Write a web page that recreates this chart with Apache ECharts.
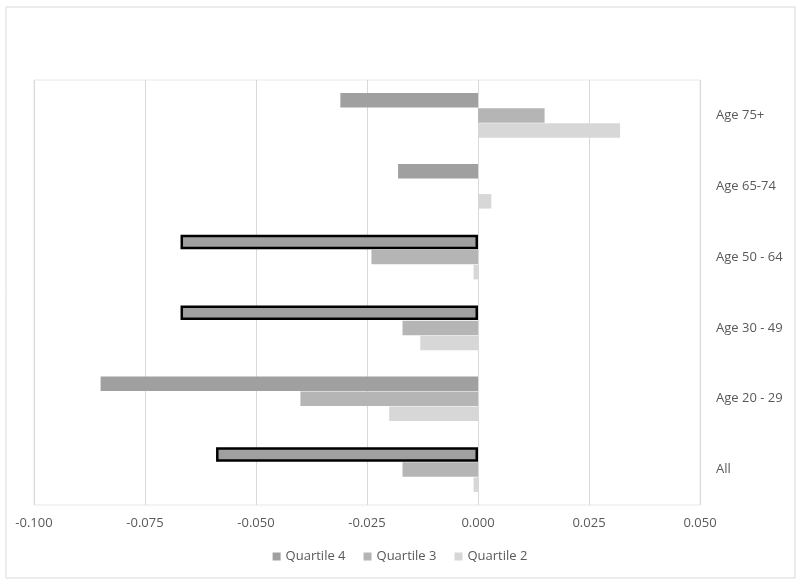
<!DOCTYPE html>
<html>
<head>
<meta charset="utf-8">
<script src="https://cdn.jsdelivr.net/npm/echarts@6/dist/echarts.min.js"></script>
<style>
  html, body { margin: 0; padding: 0; background: #fff; }
  #main { width: 800px; height: 584px; }
</style>
</head>
<body>
<div id="main"></div>
<script>
// categories, bottom to top
const ageGroups = ["All", "Age 20 - 29", "Age 30 - 49", "Age 50 - 64", "Age 65-74", "Age 75+"];
const quartile4 = [-0.059, -0.085, -0.067, -0.067, -0.018, -0.031];
const quartile3 = [-0.017, -0.040, -0.017, -0.024, 0, 0.015];
const quartile2 = [-0.001, -0.020, -0.013, -0.001, 0.003, 0.032];
// bars drawn with a black outline in the original
const outlinedQ4 = [true, false, true, true, false, false];

const chart = echarts.init(document.getElementById("main"));

const textStyle = { fontFamily: "Open Sans", color: "#595959", fontSize: 13 };

chart.setOption({
  animation: false,
  textStyle: textStyle,
  graphic: [{
    type: "rect",
    shape: { x: 6, y: 7, width: 789, height: 571 },
    style: { fill: "none", stroke: "#d9d9d9", lineWidth: 1 },
    silent: true
  }],
  grid: {
    left: 34, right: 100, top: 80, bottom: 79,
    show: true, borderColor: "#e4e9ef", borderWidth: 1
  },
  legend: {
    bottom: 16,
    left: "center",
    itemWidth: 8, itemHeight: 8, itemGap: 18,
    icon: "rect",
    textStyle: textStyle
  },
  xAxis: {
    type: "value",
    min: -0.1, max: 0.05, interval: 0.025,
    axisLine: { show: false },
    axisTick: { show: false },
    splitLine: { lineStyle: { color: "#d9d9d9" } },
    axisLabel: { margin: 12, formatter: v => v.toFixed(3), color: "#595959", fontFamily: "Open Sans", fontSize: 13 }
  },
  yAxis: {
    type: "category",
    position: "right",
    data: ageGroups,
    axisLine: { show: false },
    axisTick: { show: false },
    axisLabel: { margin: 16, color: "#595959", fontFamily: "Open Sans", fontSize: 13 }
  },
  series: [
    {
      name: "Quartile 4", type: "bar",
      data: quartile4.map((v, i) => outlinedQ4[i]
        ? { value: v, itemStyle: { borderColor: "#000", borderWidth: 2.5 } }
        : v),
      itemStyle: { color: "#a0a0a0" }, barWidth: 14.5, barGap: "4%"
    },
    {
      name: "Quartile 3", type: "bar", data: quartile3,
      itemStyle: { color: "#b5b5b5" }, barWidth: 14.5
    },
    {
      name: "Quartile 2", type: "bar", data: quartile2,
      itemStyle: { color: "#d7d7d7" }, barWidth: 14.5
    }
  ]
});
</script>
</body>
</html>
